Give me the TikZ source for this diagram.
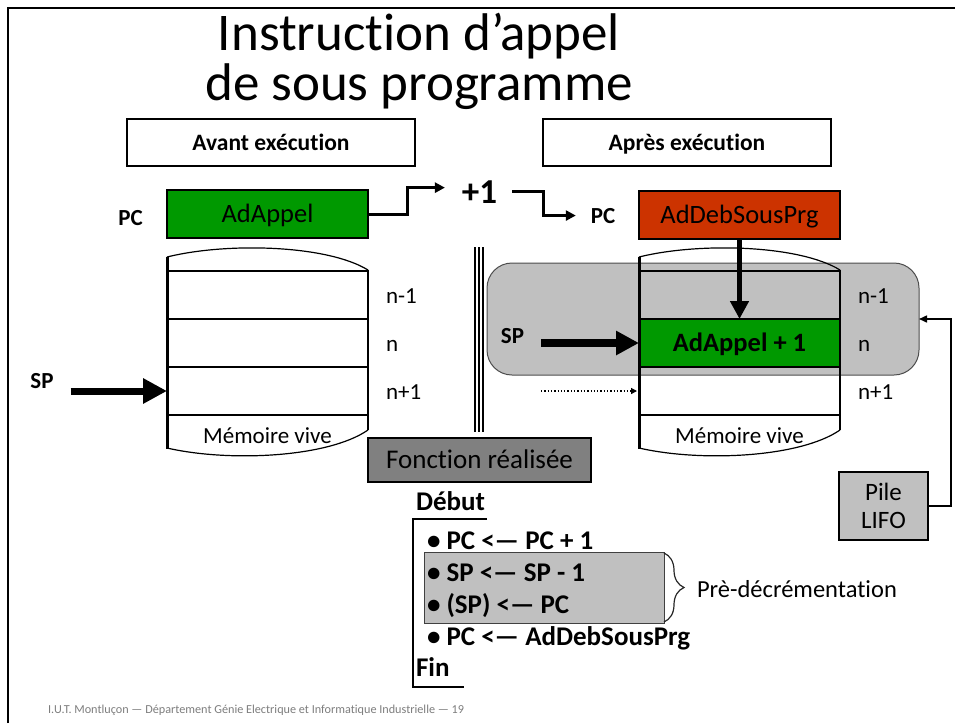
\documentclass[tikz,border=0pt]{standalone}
\usepackage{fontspec}
\setmainfont{Carlito}[Ligatures=NoCommon]
\usetikzlibrary{positioning}
\usetikzlibrary{arrows.meta}
\usetikzlibrary{decorations.pathreplacing}

\definecolor{regvert}{RGB}{0,153,0}
\definecolor{regrouge}{RGB}{204,51,0}
\definecolor{gris}{RGB}{192,192,192}
\definecolor{grisfonce}{RGB}{128,128,128}
\definecolor{piedgris}{RGB}{125,125,125}

\tikzset{every node/.style={align=center, inner sep=0pt, outer sep=0pt},
         titre/.style={font=\fontsize{53}{50}\selectfont, anchor=base},
         etiq/.style={font=\fontsize{23}{27}\selectfont},
         etiqgras/.style={font=\bfseries\fontsize{23}{27}\selectfont},
         liste/.style={font=\bfseries\fontsize{27}{31}\selectfont, anchor=base west},
         centre/.style={text height=#1, text depth=3pt}, % texte centre sur les capitales
         cadre/.style={ % boites Avant / Apres
           draw, line width=1.5pt, fill=white, centre=18pt,
           minimum width=288pt, minimum height=47pt,
           font=\bfseries\fontsize{23.5}{27}\selectfont},
         registre/.style={draw, line width=1.5pt, centre=20pt,
           minimum width=201pt, minimum height=48pt,
           font=\fontsize{26.5}{31}\selectfont},
         case/.style={minimum width=201pt, minimum height=48pt, centre=20pt},
         grosse fleche/.style={line width=7pt, -{Triangle[length=24pt, width=24pt]}},
         fleche pas/.style={line width=3pt, -{Triangle[length=10pt, width=10pt]}},
         fleche fine/.style={line width=1.5pt, -{Triangle[length=8pt, width=7pt]}}}

\begin{document}
\begin{tikzpicture}[x=1pt, y=-1pt]
  \useasboundingbox (0,0) rectangle (955,723);
  \draw[line width=2.5pt] (8,723) -- (8,8) -- (955,8);

  \node[titre] (titre1) at (419,50) {Instruction d’appel};
  \node[titre] (titre2) at (419,100) {de sous programme};

  \node[cadre] (avant) at (271,142.5) {Avant exécution};
  \node[cadre] (apres) at (687,142.5) {Après exécution};

  % registres PC
  \node[etiqgras, anchor=base] (pcg) at (130.5,225) {PC};
  \node[registre, fill=regvert] (adappel) at (267.5,214) {AdAppel};
  \node[font=\bfseries\fontsize{35}{40}\selectfont, anchor=base] (plus) at (479.5,203) {+1};
  \node[etiqgras, anchor=base] (pcd) at (603,223) {PC};
  \node[registre, fill=regrouge] (addeb) at (739.5,215) {AdDebSousPrg};

  \draw[fleche pas] (adappel.east) -- ++(39,0) |- ([xshift=-17pt, yshift=4pt]plus.west);
  \draw[fleche pas] ([xshift=15pt]plus.east) -- ++(31,0) |- ([xshift=-15pt]pcd.west);

  % zone de pile
  \node[draw=gray!60!black, fill=gris, line width=1pt, rounded corners=25pt,
        minimum width=432pt, minimum height=112pt] (pilezone) at (703,319) {};
  \node[case, fill=regvert, font=\bfseries\fontsize{26.5}{31}\selectfont] (sommet) at (739.5,343) {AdAppel + 1};

  % memoires vives
  \foreach \m/\cx in {g/267.5, d/739.5}{
    \foreach \i/\cy/\t in {1/295/n-1, 2/343/n, 3/391/n+1}{
      \node[case] (\m\i) at (\cx,\cy) {};
      \node[etiq, anchor=base west] (\m lab\i) at (\cx+118.5,\cy+8) {\t};
    }
    \node[etiq, anchor=base] (\m vive) at (\cx,443) {Mémoire vive};
    \draw[line width=3pt] (\cx-100.5,257) -- (\cx-100.5,449);
    \draw[line width=1.3pt] (\cx+100.5,270) -- (\cx+100.5,430);
    \draw[line width=1.2pt] (\cx-100.5,257) .. controls (\cx-40,242) and (\cx+60,245) .. (\cx+100.5,270);
    \draw[line width=1.2pt] (\cx-100.5,448) .. controls (\cx-40,462) and (\cx+60,458) .. (\cx+100.5,430);
    \foreach \ly in {271,319,367,415}
      \draw[line width=2pt] (\cx-100.5,\ly) -- (\cx+100.5,\ly);
  }

  % pointeurs de pile
  \node[etiqgras, anchor=base] (spg) at (42,388) {SP};
  \node[etiqgras, anchor=base] (spd) at (512.5,343) {SP};
  \draw[grosse fleche, shorten <=17pt] (spg.east |- g3.west) -- (g3.west);
  \draw[grosse fleche, line width=8pt, -{Triangle[length=23pt, width=23pt]}, shorten <=17pt]
    (spd.east |- sommet.west) -- (sommet.west);
  \draw[line width=1.3pt, dotted, -{Triangle[length=6pt, width=6pt]}, shorten <=17pt, shorten >=2pt]
    (spd.east |- d3.west) -- (d3.west);
  \draw[line width=5pt, -{Triangle[length=18pt, width=18pt]}] (addeb.south) -- (d1.south);

  % separation
  \foreach \vx in {474.8,479,483.2}
    \draw[line width=2.4pt] (\vx,247) -- (\vx,432);

  \node[draw, line width=1.2pt, fill=grisfonce, minimum width=223pt, minimum height=44pt, centre=20.5pt,
        font=\fontsize{27}{31}\selectfont] (fonction) at (479.5,460) {Fonction réalisée};

  \node[draw, line width=1.2pt, fill=gris, minimum width=89pt, minimum height=68pt,
        font=\fontsize{25}{28}\selectfont] (pile) at (883.5,506) {Pile\\LIFO};
  \draw[fleche fine] (pile.east) -- ++(23,0) |- (pilezone.east);

  % deroulement de l'instruction
  \node[draw=gray!50!black, line width=1pt, fill=gris, minimum width=240pt, minimum height=71pt]
    (predec) at (544,587.5) {};
  \draw[line width=2pt] (487,519) -- (413,519) -- (413,687) -- (464,687);
  \node[liste] (debut) at (416,510) {Début};
  \node[liste] (op1) at (427,549) {• PC <— PC + 1};
  \node[liste] (op2) at (427,581) {• SP <— SP - 1};
  \node[liste] (op3) at (427,613) {• (SP) <— PC};
  \node[liste] (op4) at (427,645) {• PC <— AdDebSousPrg};
  \node[liste] (fin) at (416,676) {Fin};

  \draw[line width=1.2pt, gray!30!black, decorate, decoration={brace, amplitude=20pt}]
    (664,553) -- (664,622);
  \node[etiq, font=\fontsize{24.5}{28}\selectfont, anchor=base west] (predectxt) at (697,597) {Prè-décrémentation};

  \node[font=\fontsize{12.2}{14}\selectfont, text=piedgris, anchor=base west] (pied) at (48,713)
    {I.U.T. Montluçon — Département Génie Electrique et Informatique Industrielle — 19};
\end{tikzpicture}
\end{document}
